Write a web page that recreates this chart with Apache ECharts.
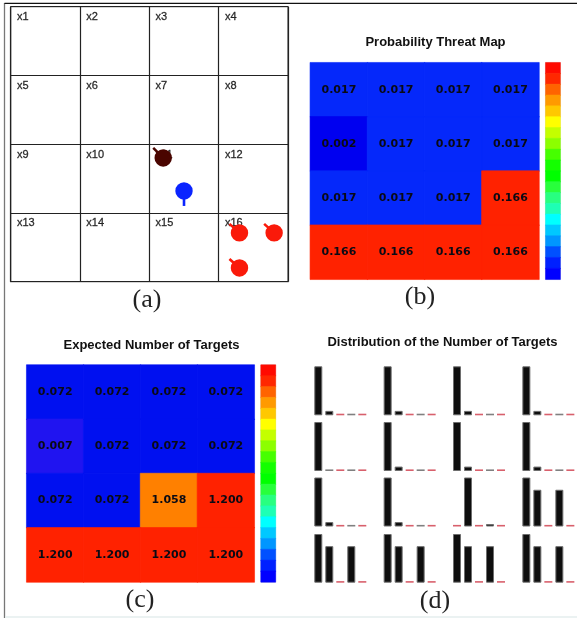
<!DOCTYPE html>
<html>
<head>
<meta charset="utf-8">
<style>html,body{margin:0;padding:0;background:#fff}#c{width:577px;height:618px;filter:blur(0.35px)}</style>
<script src="https://cdn.jsdelivr.net/npm/echarts@6/dist/echarts.min.js"></script>
</head>
<body>
<div id="c"></div>
<script>
// ---- data ----
const cellNames = ['x1','x2','x3','x4','x5','x6','x7','x8','x9','x10','x11','x12','x13','x14','x15','x16'];
const threatValues = [0.017,0.017,0.017,0.017, 0.002,0.017,0.017,0.017, 0.017,0.017,0.017,0.166, 0.166,0.166,0.166,0.166];
const expectedValues = [0.072,0.072,0.072,0.072, 0.007,0.072,0.072,0.072, 0.072,0.072,1.058,1.200, 1.200,1.200,1.200,1.200];
const distributions = [
  [1,0.09,0,0,0],[1,0.09,0,0,0],[1,0.09,0,0,0],[1,0.09,0,0,0],
  [1,0,0,0,0],[1,0.09,0,0,0],[1,0.09,0,0,0],[1,0.09,0,0,0],
  [1,0.09,0,0,0],[1,0.09,0,0,0],[0,1,0,0.05,0],[1,0.75,0,0.75,0],
  [1,0.75,0,0.75,0],[1,0.75,0,0.75,0],[1,0.75,0,0.75,0],[1,0.75,0,0.75,0]
];
const targetCounts = ['0','1','2','3','4'];
const colorbarColors = ['#ff0a00','#ff2800','#ff6400','#ff9a00','#ffc800','#ffff00','#c4ff00','#8cff00','#46ff00','#14ff00','#00ff00','#28ff3c','#28ff80','#1effb4','#00ffff','#00c8ff','#0096ff','#0050ff','#0020ff','#0000ff'];
const threatColors = {0.002:'#0000f0', 0.017:'#0528fa', 0.166:'#ff2200'};
const expectedColors = {0.007:'#2014f0', 0.072:'#0010f0', 1.058:'#ff8000', 1.2:'#ff2200'};
const agents = [
  {x:2.20,y:2.20,dx:-10,dy:-10,color:'#4a0500'},
  {x:2.50,y:2.68,dx:0,dy:15,color:'#0a24ff'},
  {x:3.30,y:3.29,dx:-10,dy:-9,color:'#fa1a0a'},
  {x:3.80,y:3.29,dx:-10,dy:-9,color:'#fa1a0a'},
  {x:3.30,y:3.80,dx:-10,dy:-9,color:'#fa1a0a'}
];

// ---- layout ----
const grids=[], xAxes=[], yAxes=[], series=[];
function addGrid(g, xa, ya){
  grids.push(Object.assign({containLabel:false}, g));
  const i=grids.length-1;
  xAxes.push(Object.assign({gridIndex:i}, xa));
  yAxes.push(Object.assign({gridIndex:i}, ya));
  return i;
}
const hiddenCat = d => ({type:'category',data:d,show:false});
const idx4 = ['0','1','2','3'];

// (a) world grid
const aIdx = addGrid({left:10.7,top:6.7,width:277.3,height:275,show:true,borderColor:'#555',borderWidth:1.3},
  {type:'value',min:0,max:4,interval:1,axisLine:{show:false},axisTick:{show:false},axisLabel:{show:false},splitLine:{show:true,lineStyle:{color:'#222',width:1.2}}},
  {type:'value',min:0,max:4,interval:1,inverse:true,axisLine:{show:false},axisTick:{show:false},axisLabel:{show:false},splitLine:{show:true,lineStyle:{color:'#222',width:1.2}}});
series.push({type:'scatter',xAxisIndex:aIdx,yAxisIndex:aIdx,symbolSize:0,silent:true,z:2,
  data:cellNames.map((n,i)=>({name:n,value:[i%4+0.09,Math.floor(i/4)+0.15]})),
  label:{show:true,position:'right',distance:0,formatter:p=>p.name,fontFamily:'Liberation Sans',fontSize:11,color:'#000',textBorderColor:'#000',textBorderWidth:0.3}});
series.push({type:'custom',xAxisIndex:aIdx,yAxisIndex:aIdx,silent:true,z:5,clip:false,
  data:agents.map(a=>[a.x,a.y,a.dx,a.dy]),
  encode:{x:0,y:1},
  renderItem:(params,api)=>{
    const p=api.coord([api.value(0),api.value(1)]);
    const c=agents[params.dataIndex].color;
    return {type:'group',children:[
      {type:'line',shape:{x1:p[0],y1:p[1],x2:p[0]+api.value(2),y2:p[1]+api.value(3)},style:{stroke:c,lineWidth:2.6}},
      {type:'circle',shape:{cx:p[0],cy:p[1],r:8.7},style:{fill:c}}
    ]};
  }});

// heat maps
function addHeat(left,top,w,h,values,colors,barLeft){
  const g=addGrid({left,top,width:w,height:h},hiddenCat(idx4),Object.assign(hiddenCat(idx4),{inverse:true}));
  series.push({type:'heatmap',xAxisIndex:g,yAxisIndex:g,silent:true,
    data:values.map((v,i)=>({value:[i%4,Math.floor(i/4),v],itemStyle:{color:colors[v],borderColor:colors[v],borderWidth:0.6}})),
    label:{show:true,formatter:p=>p.value[2].toFixed(3),fontFamily:'DejaVu Sans',fontWeight:'bold',fontSize:11,color:'#0a0a14'},
    progressive:0,emphasis:{disabled:true}});
  const rows=colorbarColors.map((c,i)=>String(i));
  const b=addGrid({left:barLeft,top,width:14.5,height:h,show:true,borderColor:'#ccc',borderWidth:1},hiddenCat(['0']),Object.assign(hiddenCat(rows),{inverse:true}));
  series.push({type:'heatmap',xAxisIndex:b,yAxisIndex:b,silent:true,
    data:colorbarColors.map((c,i)=>({value:[0,i,i],itemStyle:{color:c,borderColor:c,borderWidth:0.4}})),
    progressive:0,emphasis:{disabled:true}});
}
addHeat(310.3,62.7,228.7,216.6,threatValues,threatColors,545.7);
addHeat(26.7,365,227.6,217,expectedValues,expectedColors,261);

// (d) small multiples
const zeroColor = i => (i===1||i===3) ? '#808080' : '#d8606c';
distributions.forEach((vals,i)=>{
  const col=i%4,row=Math.floor(i/4);
  const g=addGrid({left:312.8+col*69.35,top:[366.3,422,477.5,534][row],width:55,height:[49,49,49,48.7][row]},
    hiddenCat(targetCounts),{type:'value',min:0,max:1,show:false});
  series.push({type:'bar',xAxisIndex:g,yAxisIndex:g,silent:true,barWidth:8,barMinHeight:1.6,
    data:vals.map((v,k)=>({value:v,itemStyle:v===0
      ?{color:zeroColor(k),borderWidth:0}
      :{color:'#0e0e0e',borderColor:'#6e6e6e',borderWidth:1}}))});
});

const txt=(text,cx,cy,font)=>({type:'text',x:cx,y:cy,silent:true,style:Object.assign({text,align:'center',verticalAlign:'middle',fill:'#111'},font)});
const titleFont={fontFamily:'Liberation Sans',fontWeight:'bold',fontSize:13};
const subFont={fontFamily:'Liberation Serif',fontSize:26,fill:'#222'};
const graphic=[
  {type:'line',shape:{x1:4.5,y1:3,x2:4.5,y2:618},style:{stroke:'#777',lineWidth:1.3},silent:true},
  {type:'line',shape:{x1:4.5,y1:3.4,x2:577,y2:3.4},style:{stroke:'#111',lineWidth:1.3},silent:true},
  {type:'line',shape:{x1:5,y1:617,x2:577,y2:617},style:{stroke:'#e4eeee',lineWidth:1.5},silent:true},
  txt('Probability Threat Map',435.5,42.5,titleFont),
  txt('Expected Number of Targets',151.5,345.5,titleFont),
  txt('Distribution of the Number of Targets',442.5,342.5,titleFont),
  txt('(a)',147,300,subFont),
  txt('(b)',420,297.5,subFont),
  txt('(c)',140,600,subFont),
  txt('(d)',435,601,subFont)
];

const chart=echarts.init(document.getElementById('c'),null,{renderer:'canvas'});
chart.setOption({animation:false,backgroundColor:'#fff',grid:grids,xAxis:xAxes,yAxis:yAxes,series,graphic});
</script>
</body>
</html>
